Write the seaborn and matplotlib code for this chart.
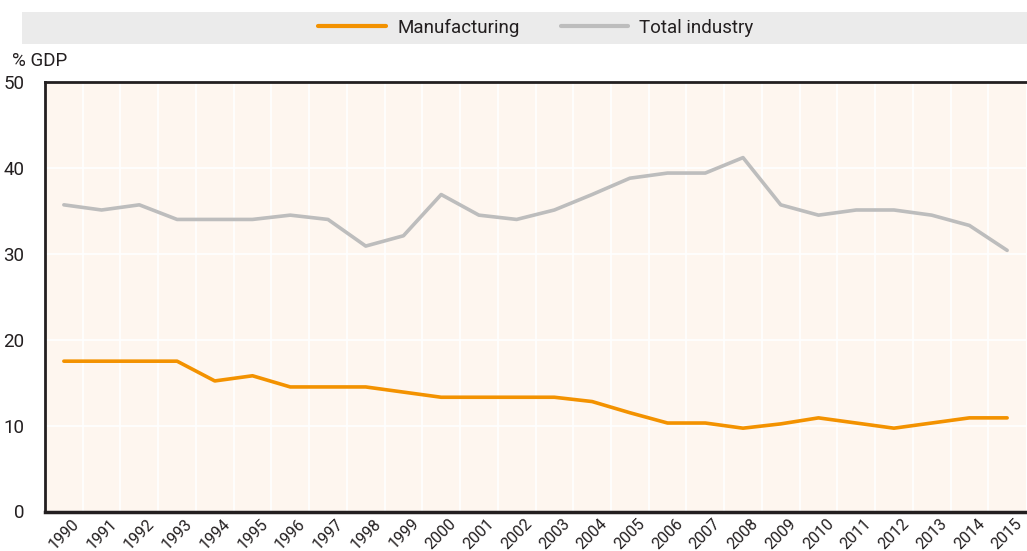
import matplotlib
matplotlib.use("Agg")
import matplotlib.pyplot as plt
from matplotlib.patches import Rectangle
from matplotlib.lines import Line2D
import numpy as np
import pandas as pd
import seaborn as sns

years = [1990, 1991, 1992, 1993, 1994, 1995, 1996, 1997, 1998, 1999, 2000, 2001, 2002,
         2003, 2004, 2005, 2006, 2007, 2008, 2009, 2010, 2011, 2012, 2013, 2014, 2015]
manufacturing = [17.5, 17.5, 17.5, 17.5, 15.2, 15.8, 14.5, 14.5, 14.5, 13.9, 13.3, 13.3, 13.3,
                 13.3, 12.8, 11.5, 10.3, 10.3, 9.7, 10.2, 10.9, 10.3, 9.7, 10.3, 10.9, 10.9]
total_industry = [35.7, 35.1, 35.7, 34.0, 34.0, 34.0, 34.5, 34.0, 30.9, 32.1, 36.9, 34.5, 34.0,
                  35.1, 36.9, 38.8, 39.4, 39.4, 41.2, 35.7, 34.5, 35.1, 35.1, 34.5, 33.3, 30.4]
series_names = ["Manufacturing", "Total industry"]
y_ticks = [0, 10, 20, 30, 40, 50]

ORANGE = "#F39200"
GREY = "#BDBDBD"
BG = "#FEF6EF"
INK = "#231F20"

FONT = ["Roboto", "DejaVu Sans"]

sns.set_theme(style="white")
plt.rcParams["font.family"] = FONT

idx = np.arange(len(years))
df = pd.DataFrame({
    "pos": np.concatenate([idx, idx]),
    "value": manufacturing + total_industry,
    "series": [series_names[0]] * len(years) + [series_names[1]] * len(years),
})

fig = plt.figure(figsize=(10.27, 5.51), dpi=100)
ax = fig.add_axes([45 / 1027, 1 - 511.5 / 551, (1026 - 45) / 1027, (511.5 - 82) / 551])
ax.set_facecolor(BG)

sns.lineplot(data=df, x="pos", y="value", hue="series",
             palette={series_names[0]: ORANGE, series_names[1]: GREY},
             linewidth=2.6, ax=ax, legend=False, zorder=3)

n = len(years)
ax.set_xlim(-0.5, n - 0.5)
ax.set_ylim(0, 50)

# category boundaries carry the ticks and the vertical grid
bounds = np.arange(n) + 0.5
ax.set_xticks(bounds[:-1])
ax.set_xticklabels([])
ax.tick_params(axis="x", direction="in", length=6, width=1, color="#555555", pad=0)
for b in bounds[:-1]:
    ax.axvline(b, color="white", lw=1.2, zorder=1)
for yv in y_ticks[1:-1]:
    ax.axhline(yv, color="white", lw=1.2, zorder=1)

for yr, b in zip(years, bounds):
    ax.text(b - 0.3, -0.5, str(yr), rotation=45, ha="right", va="top",
            rotation_mode="anchor", fontsize=11.5, color=INK, clip_on=False,
            family=FONT)

ax.set_yticks(y_ticks)
ax.set_yticklabels([str(v) for v in y_ticks], fontsize=13.5, color=INK)
ax.tick_params(axis="y", direction="in", length=7, width=1, color="#555555", pad=15)

ax.set_xlabel("")
ax.set_ylabel("")
ax.spines["right"].set_visible(False)
ax.spines["left"].set_color(INK)
ax.spines["left"].set_linewidth(2)
ax.spines["bottom"].set_color(INK)
ax.spines["bottom"].set_linewidth(2.5)
ax.spines["top"].set_color(INK)
ax.spines["top"].set_linewidth(2)

fig.text(12 / 1027, 1 - 61 / 551, "% GDP", fontsize=13.5, color=INK,
         ha="left", va="center", family=FONT)

# legend band
fig.patches.append(Rectangle((22 / 1027, 1 - 44 / 551), 1 - 22 / 1027, 32 / 551,
                             transform=fig.transFigure, facecolor="#EBEBEB",
                             edgecolor="none", zorder=0))
handles = [Line2D([], [], color=ORANGE, lw=3), Line2D([], [], color=GREY, lw=3)]
fig.legend(handles, series_names, loc="center", bbox_to_anchor=(536 / 1027, 1 - 28 / 551),
           ncol=2, frameon=False, fontsize=13.5, handlelength=3.6, handletextpad=0.6,
           columnspacing=2.2, labelcolor=INK)

fig.savefig("out.png", dpi=100)
